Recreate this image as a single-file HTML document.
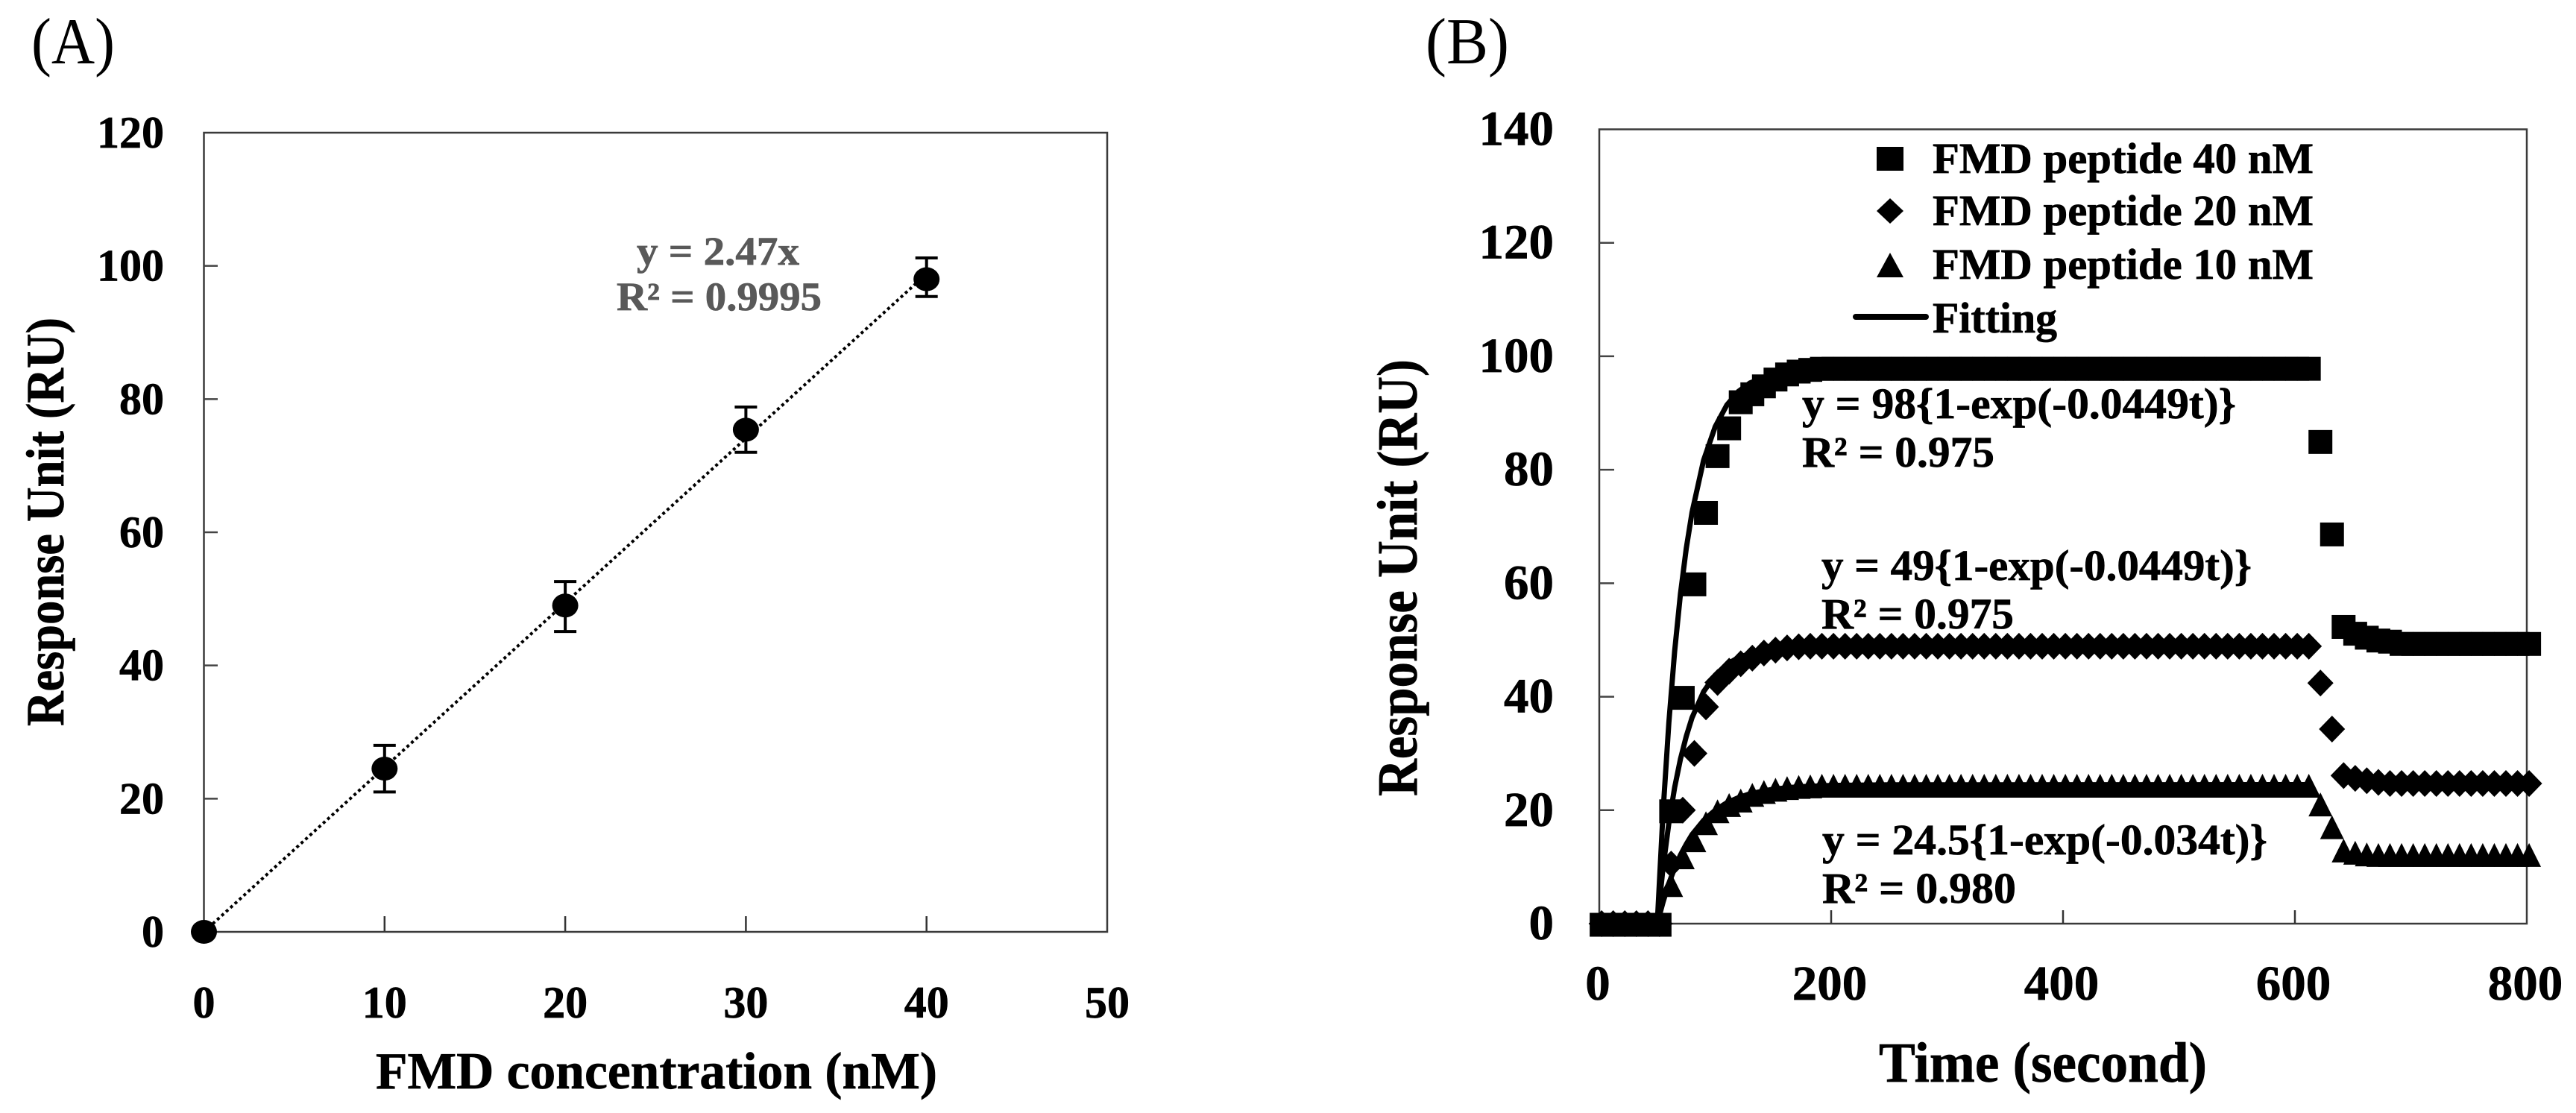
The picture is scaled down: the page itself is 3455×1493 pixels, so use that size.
<!DOCTYPE html>
<html lang="en">
<head>
<meta charset="utf-8">
<title>FMD response charts</title>
<style>
html,body{margin:0;padding:0;background:#fff;}
svg{display:block;}
text{font-family:"Liberation Serif",serif;fill:#000;}
.b{font-weight:bold;stroke:#000;stroke-width:0.7px;}
</style>
</head>
<body>
<svg id="figure" xmlns="http://www.w3.org/2000/svg" width="3455" height="1493" viewBox="0 0 3455 1493">
<rect x="0" y="0" width="3455" height="1493" fill="#fff"/>

<text x="42" y="85" font-size="88" textLength="112" lengthAdjust="spacingAndGlyphs">(A)</text>
<text x="1912" y="85" font-size="88" textLength="112" lengthAdjust="spacingAndGlyphs">(B)</text>

<g id="chartA">
<rect x="273.5" y="178" width="1211.5" height="1072" fill="none" stroke="#3a3a3a" stroke-width="2.5"/>
<text class="b" x="504" y="1460" font-size="70" textLength="753" lengthAdjust="spacingAndGlyphs">FMD concentration (nM)</text>
<text class="b" transform="translate(85,974) rotate(-90)" x="0" y="0" font-size="72" textLength="548" lengthAdjust="spacingAndGlyphs">Response Unit (RU)</text>
<text class="b" x="854" y="355" font-size="54" textLength="218" lengthAdjust="spacingAndGlyphs" style="fill:#595959;stroke:#595959">y = 2.47x</text>
<text class="b" x="827" y="416" font-size="54" textLength="275" lengthAdjust="spacingAndGlyphs" style="fill:#595959;stroke:#595959">R² = 0.9995</text>
</g>

<g id="chartB">
<rect x="2145" y="173.5" width="1244" height="1065.5" fill="none" stroke="#3a3a3a" stroke-width="2.5"/>
<text class="b" x="2520" y="1451" font-size="76" textLength="440" lengthAdjust="spacingAndGlyphs">Time (second)</text>
<text class="b" transform="translate(1900,1068) rotate(-90)" x="0" y="0" font-size="76" textLength="586" lengthAdjust="spacingAndGlyphs">Response Unit (RU)</text>
</g>

<g id="legendB">
<rect x="2517" y="197" width="36" height="32" fill="#000"/>
<polygon points="2535,266 2553,283 2535,300 2517,283" fill="#000"/>
<polygon points="2535,339 2553,372 2517,372" fill="#000"/>
<line x1="2489" y1="425" x2="2583" y2="425" stroke="#000" stroke-width="8" stroke-linecap="round"/>
<text class="b" x="2592" y="232" font-size="58" textLength="511" lengthAdjust="spacingAndGlyphs">FMD peptide 40 nM</text>
<text class="b" x="2592" y="302" font-size="58" textLength="511" lengthAdjust="spacingAndGlyphs">FMD peptide 20 nM</text>
<text class="b" x="2592" y="374" font-size="58" textLength="511" lengthAdjust="spacingAndGlyphs">FMD peptide 10 nM</text>
<text class="b" x="2592" y="446" font-size="58" textLength="167" lengthAdjust="spacingAndGlyphs">Fitting</text>
</g>

<g id="markB"></g>

<g id="annotB">
<text class="b" x="2417" y="561" font-size="58" textLength="582" lengthAdjust="spacingAndGlyphs">y = 98{1-exp(-0.0449t)}</text>
<text class="b" x="2417" y="626" font-size="58" textLength="258" lengthAdjust="spacingAndGlyphs">R² = 0.975</text>
<text class="b" x="2443" y="778" font-size="58" textLength="577" lengthAdjust="spacingAndGlyphs">y = 49{1-exp(-0.0449t)}</text>
<text class="b" x="2443" y="843" font-size="58" textLength="258" lengthAdjust="spacingAndGlyphs">R² = 0.975</text>
<text class="b" x="2444" y="1146" font-size="58" textLength="597" lengthAdjust="spacingAndGlyphs">y = 24.5{1-exp(-0.034t)}</text>
<text class="b" x="2444" y="1211" font-size="58" textLength="260" lengthAdjust="spacingAndGlyphs">R² = 0.980</text>
</g>
</svg>

<script>
// Panel A data
var concentrations = [0, 10, 20, 30, 40];
var responseValues = [0, 24.5, 49, 75.4, 98];
var errorUpper = [0, 28, 52.6, 78.8, 101.2];
var errorLower = [0, 21, 45.1, 72, 95.4];
var trendX = [0, 40];
var trendY = [0, 98.8];
var aXTicks = [0, 10, 20, 30, 40, 50];
var aYTicks = [0, 20, 40, 60, 80, 100, 120];

// Panel B data
var bXTicks = [0, 200, 400, 600, 800];
var bYTicks = [0, 20, 40, 60, 80, 100, 120, 140];
var times = [
2,12,22,32,42,52,62,72,82,92,
102,112,122,132,142,152,162,172,182,192,
202,212,222,232,242,252,262,272,282,292,
302,312,322,332,342,352,362,372,382,392,
402,412,422,432,442,452,462,472,482,492,
502,512,522,532,542,552,562,572,582,592,
602,612,622,632,642,652,662,672,682,692,
702,712,722,732,742,752,762,772,782,792,
802];
var peptide40 = [
-0.2,-0.2,-0.2,-0.2,-0.2,-0.2,19.8,39.8,59.8,72.4,
82.4,87.3,91.9,93.3,94.7,95.9,96.8,97.3,97.6,97.8,
97.8,97.8,97.8,97.8,97.8,97.8,97.8,97.8,97.8,97.8,
97.8,97.8,97.8,97.8,97.8,97.8,97.8,97.8,97.8,97.8,
97.8,97.8,97.8,97.8,97.8,97.8,97.8,97.8,97.8,97.8,
97.8,97.8,97.8,97.8,97.8,97.8,97.8,97.8,97.8,97.8,
97.8,97.8,84.9,68.6,52.3,51.1,50.4,49.9,49.7,49.3,
49.3,49.3,49.3,49.3,49.3,49.3,49.3,49.3,49.3,49.3,
49.3];
var peptide20 = [
0,0,0,0,0,0,10.5,20,30,38.2,
42.5,44.5,45.8,46.8,47.7,48.2,48.6,48.8,48.9,48.9,
48.9,48.9,48.9,48.9,48.9,48.9,48.9,48.9,48.9,48.9,
48.9,48.9,48.9,48.9,48.9,48.9,48.9,48.9,48.9,48.9,
48.9,48.9,48.9,48.9,48.9,48.9,48.9,48.9,48.9,48.9,
48.9,48.9,48.9,48.9,48.9,48.9,48.9,48.9,48.9,48.9,
48.9,48.9,42.4,34.3,26.1,25.6,25.2,24.9,24.7,24.7,
24.7,24.7,24.7,24.7,24.7,24.7,24.7,24.7,24.7,24.7,
24.7];
var peptide10 = [
0,0,0,0,0,0,6.8,11.7,14.7,17.7,
19.8,20.9,21.7,22.7,23.2,23.6,23.9,24.1,24.2,24.3,
24.3,24.3,24.3,24.3,24.3,24.3,24.3,24.3,24.3,24.3,
24.3,24.3,24.3,24.3,24.3,24.3,24.3,24.3,24.3,24.3,
24.3,24.3,24.3,24.3,24.3,24.3,24.3,24.3,24.3,24.3,
24.3,24.3,24.3,24.3,24.3,24.3,24.3,24.3,24.3,24.3,
24.3,24.3,21,17,12.9,12.5,12.2,12.1,12.1,12.1,
12.1,12.1,12.1,12.1,12.1,12.1,12.1,12.1,12.1,12.1,
12.1];
var fitTimes = [50,55,60,65,70,75,80,90,100,110,120,130,150,170,200,250,612];
var fit40 = [0,19.7,35.4,48,58.1,66.1,72.5,81.7,87.6,91.4,93.8,95.3,96.9,97.5,97.9,98,98];
var fit20 = [0,9.9,17.7,24,29,33,36.3,40.9,43.8,45.7,46.9,47.6,48.5,48.8,48.9,49,49];
var fit10 = [0,3.8,7.1,9.8,12.1,14,15.7,18.2,20,21.3,22.2,22.9,23.7,24.1,24.35,24.47,24.5];

var NS = 'http://www.w3.org/2000/svg';
function mk(parent, tag, attrs) {
  var el = document.createElementNS(NS, tag);
  for (var k in attrs) { el.setAttribute(k, attrs[k]); }
  parent.appendChild(el);
  return el;
}

// Axis functions
function ax(v) { return 273.5 + (v / 50) * 1211.5; }
function ay(v) { return 1250 - (v / 120) * 1072; }
function bx(v) { return 2145 + (v / 800) * 1244; }
function by(v) { return 1239 - (v / 140) * 1065.5; }

var chartA = document.getElementById('chartA');
var chartB = document.getElementById('chartB');
var markB = document.getElementById('markB');

function digitsWidth(t, w) { return String(t).length * w; }

// Panel A ticks and labels
aXTicks.forEach(function (t) {
  if (t > 0 && t < 50) {
    var tick = mk(chartA, 'line', { x1: ax(t), y1: 1250, x2: ax(t), y2: 1229, stroke: '#333', 'stroke-width': 2.5 });
    
    
  }
  var lab = mk(chartA, 'text', { x: ax(t), y: 1365, 'font-size': 60, 'text-anchor': 'middle', 'class': 'b', textLength: digitsWidth(t, 30), lengthAdjust: 'spacingAndGlyphs' });
  lab.textContent = String(t);
  
  
});
aYTicks.forEach(function (t) {
  if (t > 0 && t < 120) {
    var tick = mk(chartA, 'line', { x1: 273.5, y1: ay(t), x2: 292, y2: ay(t), stroke: '#444', 'stroke-width': 2.5 });
    
    
  }
  var lab = mk(chartA, 'text', { x: 220, y: ay(t) + 20, 'font-size': 60, 'text-anchor': 'end', 'class': 'b', textLength: digitsWidth(t, 30), lengthAdjust: 'spacingAndGlyphs' });
  lab.textContent = String(t);
  
  
});

// Panel A trend line, error bars, points
var trend = mk(chartA, 'line', { x1: ax(trendX[0]), y1: ay(trendY[0]), x2: ax(trendX[1]), y2: ay(trendY[1]), stroke: '#000', 'stroke-width': 4, 'stroke-dasharray': '4 4' });



concentrations.forEach(function (c, i) {
  if (errorUpper[i] !== errorLower[i]) {
    var bar = mk(chartA, 'path', {
      d: 'M' + (ax(c) - 15) + ' ' + ay(errorUpper[i]) + 'H' + (ax(c) + 15) +
         'M' + ax(c) + ' ' + ay(errorUpper[i]) + 'V' + ay(errorLower[i]) +
         'M' + (ax(c) - 15) + ' ' + ay(errorLower[i]) + 'H' + (ax(c) + 15),
      fill: 'none', stroke: '#000', 'stroke-width': 4
    });
    
    
  }
  var pt = mk(chartA, 'ellipse', { cx: ax(c), cy: ay(responseValues[i]), rx: 17.5, ry: 16, fill: '#000' });
  
  
});

// Panel B ticks and labels
bXTicks.forEach(function (t) {
  if (t > 0 && t < 800) {
    var tick = mk(chartB, 'line', { x1: bx(t), y1: 1239, x2: bx(t), y2: 1221, stroke: '#333', 'stroke-width': 2.5 });
    
    
  }
  var lab = mk(chartB, 'text', { x: bx(t) - 2, y: 1341, 'font-size': 66, 'text-anchor': 'middle', 'class': 'b', textLength: digitsWidth(t, 33.5), lengthAdjust: 'spacingAndGlyphs' });
  lab.textContent = String(t);
  
  
});
bYTicks.forEach(function (t) {
  if (t > 0 && t < 140) {
    var tick = mk(chartB, 'line', { x1: 2145, y1: by(t), x2: 2165, y2: by(t), stroke: '#444', 'stroke-width': 2.5 });
    
    
  }
  var lab = mk(chartB, 'text', { x: 2084, y: by(t) + 21, 'font-size': 66, 'text-anchor': 'end', 'class': 'b', textLength: digitsWidth(t, 33.5), lengthAdjust: 'spacingAndGlyphs' });
  lab.textContent = String(t);
  
  
});

// Panel B markers
times.forEach(function (t, i) {
  var s = mk(markB, 'rect', { x: bx(t) - 16, y: by(peptide40[i]) - 16, width: 32, height: 32, fill: '#000' });
  
  
});
times.forEach(function (t, i) {
  var x = bx(t), y = by(peptide20[i]);
  var d = mk(markB, 'polygon', { points: x + ',' + (y - 18) + ' ' + (x + 17.5) + ',' + y + ' ' + x + ',' + (y + 18) + ' ' + (x - 17.5) + ',' + y, fill: '#000' });
  
  
});
times.forEach(function (t, i) {
  var x = bx(t), y = by(peptide10[i]);
  var tr = mk(markB, 'polygon', { points: x + ',' + (y - 16) + ' ' + (x + 16) + ',' + (y + 16) + ' ' + (x - 16) + ',' + (y + 16), fill: '#000' });
  
  
});

// Panel B fitting curves
function fitPath(values) {
  return values.map(function (v, i) {
    return (i ? 'L' : 'M') + bx(fitTimes[i]) + ' ' + by(v);
  }).join('');
}
var line40 = mk(markB, 'path', { d: fitPath(fit40), fill: 'none', stroke: '#000', 'stroke-width': 7 });


var line20 = mk(markB, 'path', { d: fitPath(fit20), fill: 'none', stroke: '#000', 'stroke-width': 7 });


var line10 = mk(markB, 'path', { d: fitPath(fit10), fill: 'none', stroke: '#000', 'stroke-width': 7 });


</script>
</body>
</html>
